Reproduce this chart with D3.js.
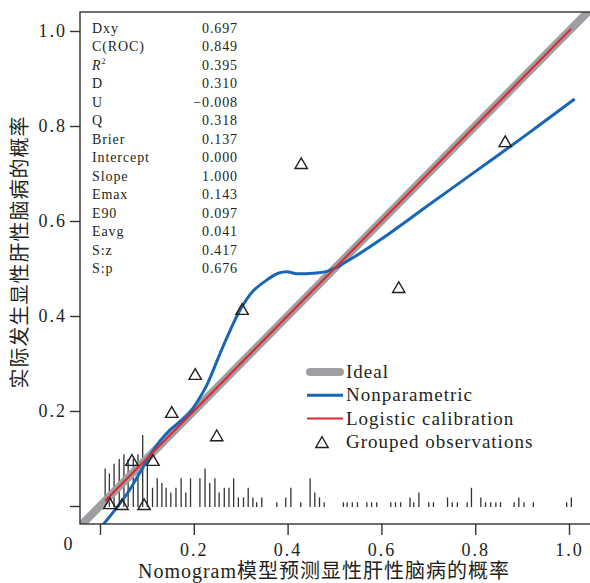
<!DOCTYPE html>
<html>
<head>
<meta charset="utf-8">
<script src="https://cdn.jsdelivr.net/npm/d3@7"></script>
<style>
  body { margin: 0; background: #fff; }
  svg text { font-family: "Liberation Serif", "Noto Sans CJK SC", serif; fill: #231f20; }
</style>
</head>
<body>
<svg width="590" height="583"></svg>
<script>
// nonparametric (lowess) calibration curve
var npX = [0.006, 0.032, 0.060, 0.085, 0.107, 0.128, 0.149, 0.171, 0.190, 0.209, 0.228, 0.262, 0.299, 0.326, 0.356, 0.380, 0.398, 0.420, 0.454, 0.484, 0.505, 0.540, 0.600, 0.700, 0.800, 0.900, 1.012];
var npY = [-0.040, -0.008, 0.029, 0.070, 0.107, 0.137, 0.160, 0.178, 0.195, 0.222, 0.255, 0.335, 0.413, 0.452, 0.476, 0.490, 0.493, 0.489, 0.490, 0.494, 0.503, 0.523, 0.562, 0.633, 0.704, 0.775, 0.857];

// logistic calibration (intercept 0, slope 1)
var logX = [0.011, 1.005];
var logY = [0.011, 1.005];

// ideal line
var idealX = [-0.1, 1.1];
var idealY = [-0.1, 1.1];

// grouped observations
var grpX = [0.021, 0.047, 0.094, 0.068, 0.113, 0.153, 0.203, 0.249, 0.303, 0.429, 0.637, 0.864];
var grpY = [0.002, 0.000, 0.000, 0.093, 0.093, 0.194, 0.274, 0.145, 0.411, 0.718, 0.457, 0.764];

// spike histogram of predicted probabilities (relative counts)
var rugX = [0.011, 0.020, 0.030, 0.041, 0.051, 0.060, 0.071, 0.081, 0.091, 0.101, 0.112, 0.122, 0.132, 0.141, 0.151, 0.162, 0.173, 0.183, 0.193, 0.213, 0.224, 0.234, 0.245, 0.254, 0.265, 0.275, 0.285, 0.295, 0.306, 0.316, 0.326, 0.334, 0.345, 0.377, 0.396, 0.407, 0.428, 0.448, 0.458, 0.468, 0.478, 0.519, 0.527, 0.538, 0.549, 0.569, 0.579, 0.590, 0.620, 0.630, 0.641, 0.661, 0.669, 0.680, 0.701, 0.711, 0.741, 0.751, 0.762, 0.783, 0.792, 0.812, 0.822, 0.833, 0.844, 0.854, 0.883, 0.893, 0.904, 0.924, 0.995, 1.005];
var rugN = [8, 7, 9, 10, 11, 10, 10, 11, 15, 9, 4, 6, 5, 4, 3, 4, 6, 3, 6, 6, 8, 5, 6, 3, 4, 4, 6, 2, 2, 4, 2, 1, 2, 1, 2, 4, 1, 6, 3, 2, 1, 1, 1, 1, 1, 1, 1, 1, 1, 1, 1, 2, 1, 3, 1, 1, 2, 1, 1, 1, 4, 2, 1, 1, 1, 1, 1, 2, 1, 1, 1, 2];

// statistics box
var statNames = ["Dxy", "C(ROC)", "R2", "D", "U", "Q", "Brier", "Intercept", "Slope", "Emax", "E90", "Eavg", "S:z", "S:p"];
var statValues = ["0.697", "0.849", "0.395", "0.310", "\u22120.008", "0.318", "0.137", "0.000", "1.000", "0.143", "0.097", "0.041", "0.417", "0.676"];

var tickVals = [0, 0.2, 0.4, 0.6, 0.8, 1.0];
var legendNames = ["Ideal", "Nonparametric", "Logistic calibration", "Grouped observations"];

var colGray = "#9d9fa2", colBlue = "#1866b4", colRed = "#e3262e", colInk = "#231f20";

var box = { left: 80, top: 12, right: 592, bottom: 524 };

var x = d3.scaleLinear().domain([0, 1]).range([100, 569]);
var y = d3.scaleLinear().domain([0, 1]).range([506, 31]);

var svg = d3.select("svg");

svg.append("defs").append("clipPath").attr("id", "clip")
  .append("rect")
  .attr("x", box.left).attr("y", box.top)
  .attr("width", box.right - box.left).attr("height", box.bottom - box.top);

var plot = svg.append("g").attr("clip-path", "url(#clip)");

// rug / spike histogram
plot.append("g").selectAll("line")
  .data(rugX)
  .enter().append("line")
  .attr("x1", function(d) { return x(d); })
  .attr("x2", function(d) { return x(d); })
  .attr("y1", y(0) + 1)
  .attr("y2", function(d, i) { return y(0) + 1 - rugN[i] * 4.8; })
  .attr("stroke", "#333")
  .attr("stroke-width", 1.3);

var line = d3.line()
  .x(function(d) { return x(d[0]); })
  .y(function(d) { return y(d[1]); });

var smooth = d3.line()
  .x(function(d) { return x(d[0]); })
  .y(function(d) { return y(d[1]); })
  .curve(d3.curveCatmullRom.alpha(0.5));

plot.append("path")
  .datum(d3.zip(idealX, idealY))
  .attr("d", line)
  .attr("fill", "none")
  .attr("stroke", colGray)
  .attr("stroke-width", 8);

plot.append("path")
  .datum(d3.zip(npX, npY))
  .attr("d", smooth)
  .attr("fill", "none")
  .attr("stroke", colBlue)
  .attr("stroke-width", 3);

plot.append("path")
  .datum(d3.zip(logX, logY))
  .attr("d", line)
  .attr("fill", "none")
  .attr("stroke", colRed)
  .attr("stroke-width", 2);

var tri = d3.symbol().type(d3.symbolTriangle).size(66);

plot.append("g").selectAll("path")
  .data(grpX)
  .enter().append("path")
  .attr("d", tri)
  .attr("transform", function(d, i) { return "translate(" + x(d) + "," + y(grpY[i]) + ")"; })
  .attr("fill", "none")
  .attr("stroke", colInk)
  .attr("stroke-width", 1.4);

// frame
svg.append("rect")
  .attr("x", box.left).attr("y", box.top)
  .attr("width", box.right - box.left).attr("height", box.bottom - box.top)
  .attr("fill", "none")
  .attr("stroke", "#333")
  .attr("stroke-width", 1.4);

// axes
var fmt = function(d) { return d === 0 ? "" : d3.format(".1f")(d); };

var yAxis = svg.append("g")
  .attr("transform", "translate(" + box.left + ",0)")
  .call(d3.axisLeft(y).tickValues(tickVals).tickFormat(fmt).tickSize(10).tickPadding(3));

var xAxis = svg.append("g")
  .attr("transform", "translate(0," + box.bottom + ")")
  .call(d3.axisBottom(x).tickValues(tickVals).tickFormat(fmt).tickSize(11).tickPadding(8));

[yAxis, xAxis].forEach(function(a) {
  a.select(".domain").remove();
  a.selectAll("line").attr("stroke", "#333").attr("stroke-width", 1.4);
  a.selectAll("text")
    .attr("fill", colInk)
    .style("font-family", "Liberation Serif, serif")
    .style("font-size", "18px")
    .style("letter-spacing", "2px");
});

svg.append("text")
  .attr("x", 68).attr("y", 550)
  .attr("text-anchor", "middle")
  .style("font-size", "18px")
  .text("0");

// axis titles
svg.append("text")
  .attr("x", 324).attr("y", 578)
  .attr("text-anchor", "middle")
  .style("font-size", "20px")
  .style("letter-spacing", "1px")
  .text("Nomogram模型预测显性肝性脑病的概率");

svg.append("text")
  .attr("transform", "translate(27,252) rotate(-90)")
  .attr("text-anchor", "middle")
  .style("font-size", "20px")
  .style("letter-spacing", "1px")
  .text("实际发生显性肝性脑病的概率");

// statistics
var stats = svg.append("g").style("font-size", "14px").style("letter-spacing", "0.9px");

statNames.forEach(function(name, i) {
  var yy = 33 + i * 18.46;
  var t = stats.append("text").attr("x", 92).attr("y", yy);
  if (name === "R2") {
    t.append("tspan").style("font-style", "italic").text("R");
    t.append("tspan").attr("dy", -6).style("font-size", "8px").text("2");
  } else {
    t.text(name);
  }
  stats.append("text")
    .attr("x", 238).attr("y", yy)
    .attr("text-anchor", "end")
    .text(statValues[i]);
});

// legend
var legend = svg.append("g").style("font-size", "19px").style("letter-spacing", "1px");

legendNames.forEach(function(name, i) {
  var cy = 372 + i * 23.3;
  if (i < 3) {
    legend.append("line")
      .attr("x1", i === 0 ? 310 : 307).attr("x2", i === 0 ? 340 : 343)
      .attr("y1", cy).attr("y2", cy)
      .attr("stroke", [colGray, colBlue, colRed][i])
      .attr("stroke-width", [8, 3, 2][i])
      .attr("stroke-linecap", i === 0 ? "round" : "butt");
  } else {
    legend.append("path")
      .attr("d", tri)
      .attr("transform", "translate(322," + (cy + 2) + ")")
      .attr("fill", "none")
      .attr("stroke", colInk)
      .attr("stroke-width", 1.4);
  }
  legend.append("text")
    .attr("x", 346).attr("y", cy + 6)
    .text(name);
});
</script>
</body>
</html>
